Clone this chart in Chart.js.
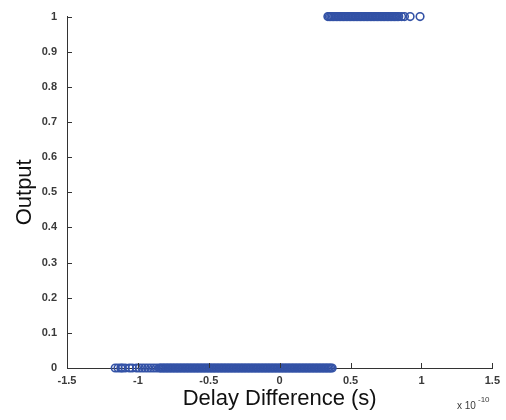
<!DOCTYPE html>
<html>
<head>
<meta charset="utf-8">
<script src="https://cdn.jsdelivr.net/npm/chart.js@4/dist/chart.umd.min.js"></script>
<style>
  html, body { margin: 0; padding: 0; background: #fff; }
  #wrap { width: 506px; height: 420px; }
</style>
</head>
<body>
<div id="wrap"><canvas id="myChart" width="506" height="420"></canvas></div>
<script>
'use strict';

// DATA (delay difference in units of 1e-10 s)

// samples where output was 0
let delayLow = [
  -1.16, -1.14, -1.12, -1.11, -1.09, -1.06, -1.04, -1.01, -0.99, -0.97,
  -0.95, -0.93, -0.91, -0.89, -0.87, -0.85, -0.84,
  -0.83, -0.82, -0.81, -0.80, -0.79, -0.78, -0.77, -0.76, -0.75, -0.74,
  -0.73, -0.72, -0.71, -0.70, -0.69, -0.68, -0.67, -0.66, -0.65, -0.64,
  -0.63, -0.62, -0.61, -0.60, -0.59, -0.58, -0.57, -0.56, -0.55, -0.54,
  -0.53, -0.52, -0.51, -0.50, -0.49, -0.48, -0.47, -0.46, -0.45, -0.44,
  -0.43, -0.42, -0.41, -0.40, -0.39, -0.38, -0.37, -0.36, -0.35, -0.34,
  -0.33, -0.32, -0.31, -0.30, -0.29, -0.28, -0.27, -0.26, -0.25, -0.24,
  -0.23, -0.22, -0.21, -0.20, -0.19, -0.18, -0.17, -0.16, -0.15, -0.14,
  -0.13, -0.12, -0.11, -0.10, -0.09, -0.08, -0.07, -0.06, -0.05, -0.04,
  -0.03, -0.02, -0.01, 0.00, 0.01, 0.02, 0.03, 0.04, 0.05, 0.06,
  0.07, 0.08, 0.09, 0.10, 0.11, 0.12, 0.13, 0.14, 0.15, 0.16,
  0.17, 0.18, 0.19, 0.20, 0.21, 0.22, 0.23, 0.24, 0.25, 0.26,
  0.27, 0.28, 0.29, 0.30, 0.31, 0.32, 0.33, 0.34, 0.35, 0.36,
  0.37
];

// samples where output was 1
let delayHigh = [
  0.34, 0.35, 0.36, 0.37, 0.38, 0.39, 0.40, 0.41, 0.42, 0.43,
  0.44, 0.45, 0.46, 0.47, 0.48, 0.49, 0.50, 0.51, 0.52, 0.53,
  0.54, 0.55, 0.56, 0.57, 0.58, 0.59, 0.60, 0.61, 0.62, 0.63,
  0.64, 0.65, 0.66, 0.67, 0.68, 0.69, 0.70, 0.71, 0.72, 0.73,
  0.74, 0.75, 0.76, 0.77, 0.78, 0.79, 0.80, 0.81, 0.82, 0.83,
  0.84, 0.86, 0.88, 0.92, 0.99
];

let outputLow = 0;
let outputHigh = 1;

let xTicks = [-1.5, -1, -0.5, 0, 0.5, 1, 1.5];
let yTicks = [0, 0.1, 0.2, 0.3, 0.4, 0.5, 0.6, 0.7, 0.8, 0.9, 1];

let axisColor = '#333333';
let labelColor = '#3a3a3a';
let markColor = '#3352a6';
let fontFamily = '"Liberation Sans", Arial, sans-serif';

function toPoints(xs, y) {
  let pts = [];
  for (let i = 0; i < xs.length; i++) {
    pts.push({ x: xs[i], y: y });
  }
  return pts;
}

// matlab style ticks pointing into the plot + the x10^-10 exponent
const matlabAxes = {
  id: 'matlabAxes',
  afterDraw(chart) {
    let ctx = chart.ctx;
    let xs = chart.scales.x;
    let ys = chart.scales.y;
    let area = chart.chartArea;
    ctx.save();
    ctx.strokeStyle = axisColor;
    ctx.lineWidth = 1;
    ctx.beginPath();
    for (let i = 0; i < xTicks.length; i++) {
      let px = Math.round(xs.getPixelForValue(xTicks[i])) + 0.5;
      ctx.moveTo(px, area.bottom);
      ctx.lineTo(px, area.bottom - 5);
    }
    for (let i = 0; i < yTicks.length; i++) {
      let py = Math.round(ys.getPixelForValue(yTicks[i])) + 0.5;
      ctx.moveTo(area.left, py);
      ctx.lineTo(area.left + 5, py);
    }
    ctx.stroke();

    ctx.fillStyle = labelColor;
    ctx.textBaseline = 'alphabetic';
    ctx.textAlign = 'left';
    ctx.font = '10px ' + fontFamily;
    ctx.fillText('x 10', 457, 409);
    ctx.font = '8px ' + fontFamily;
    ctx.fillText('-10', 478, 402);
    ctx.restore();
  }
};

const config = {
  type: 'scatter',
  data: {
    datasets: [
      {
        label: 'Output 0',
        data: toPoints(delayLow, outputLow),
        clip: false
      },
      {
        label: 'Output 1',
        data: toPoints(delayHigh, outputHigh),
        clip: false
      }
    ]
  },
  options: {
    responsive: false,
    animation: false,
    layout: { padding: { top: 15, right: 10, left: 0, bottom: 0 } },
    elements: {
      point: {
        pointStyle: 'circle',
        radius: 3.8,
        borderWidth: 1.6,
        borderColor: markColor,
        backgroundColor: 'rgba(0,0,0,0)'
      }
    },
    plugins: {
      legend: { display: false },
      tooltip: { enabled: false }
    },
    scales: {
      x: {
        type: 'linear',
        min: -1.5,
        max: 1.5,
        afterFit: function(scale) { scale.height = 52; },
        afterBuildTicks: function(scale) {
          scale.ticks = xTicks.map(function(v) { return { value: v }; });
        },
        ticks: {
          color: labelColor,
          font: { family: fontFamily, size: 11, weight: 'bold' },
          padding: 6,
          maxRotation: 0,
          callback: function(v) { return String(v); }
        },
        grid: { display: false, drawTicks: false, tickLength: 0 },
        border: { display: true, color: axisColor, width: 1 },
        title: {
          display: true,
          text: 'Delay Difference (s)',
          color: '#111',
          font: { family: fontFamily, size: 22 },
          padding: { top: 0, bottom: 8 }
        }
      },
      y: {
        type: 'linear',
        min: 0,
        max: 1,
        afterFit: function(scale) { scale.width = 67; },
        afterBuildTicks: function(scale) {
          scale.ticks = yTicks.map(function(v) { return { value: v }; });
        },
        ticks: {
          color: labelColor,
          font: { family: fontFamily, size: 11, weight: 'bold' },
          padding: 10,
          callback: function(v) { return String(v); }
        },
        grid: { display: false, drawTicks: false, tickLength: 0 },
        border: { display: true, color: axisColor, width: 1 },
        title: {
          display: true,
          text: 'Output',
          color: '#111',
          font: { family: fontFamily, size: 22 },
          padding: { top: 12, bottom: 0 }
        }
      }
    }
  },
  plugins: [matlabAxes]
};

let canvas = document.getElementById('myChart').getContext('2d');
new Chart(canvas, config);
</script>
</body>
</html>
